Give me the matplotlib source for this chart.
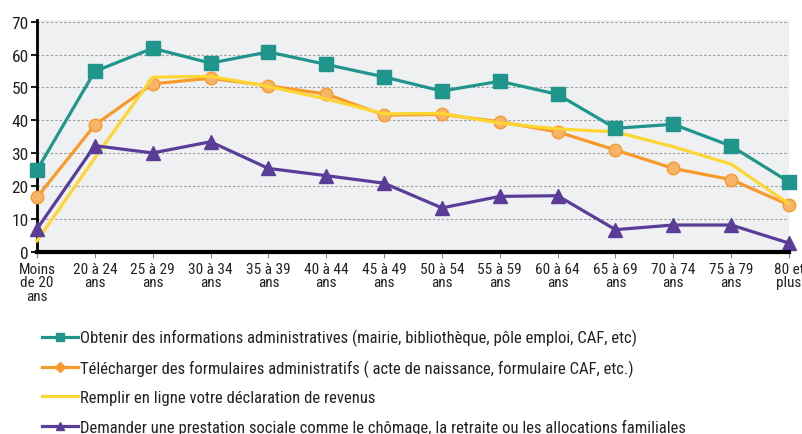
import matplotlib
matplotlib.use("Agg")
import matplotlib.pyplot as plt
import numpy as np

plt.rcParams['font.family'] = ['Roboto Condensed', 'DejaVu Sans']

categories = ["Moins\nde 20\nans", "20 à 24\nans", "25 à 29\nans", "30 à 34\nans", "35 à 39\nans",
              "40 à 44\nans", "45 à 49\nans", "50 à 54\nans", "55 à 59\nans", "60 à 64\nans",
              "65 à 69\nans", "70 à 74\nans", "75 à 79\nans", "80 et\nplus"]

infos = [24.9, 54.9, 61.9, 57.4, 60.8, 57.0, 53.2, 48.9, 51.9, 47.9, 37.6, 38.8, 32.2, 21.3]
formulaires = [16.6, 38.6, 51.1, 52.8, 50.5, 48.0, 41.6, 41.8, 39.6, 36.5, 31.0, 25.4, 22.0, 14.3]
declaration = [3.4, 28.6, 53.1, 53.4, 50.3, 46.5, 42.0, 42.1, 39.2, 37.4, 36.5, 32.0, 26.7, 14.6]
prestation = [7.0, 32.3, 30.1, 33.5, 25.4, 23.2, 20.9, 13.4, 16.9, 17.1, 6.8, 8.2, 8.2, 2.7]

labels = ["Obtenir des informations administratives (mairie, bibliothèque, pôle emploi, CAF, etc)",
          "Télécharger des formulaires administratifs ( acte de naissance, formulaire CAF, etc.)",
          "Remplir en ligne votre déclaration de revenus",
          "Demander une prestation sociale comme le chômage, la retraite ou les allocations familiales"]

teal = "#1f958b"
orange = "#f89a2a"
yellow = "#fdd633"
purple = "#5a3d98"

fig = plt.figure(figsize=(8.03, 4.35), dpi=100)
ax = fig.add_axes([37/803, 1 - 253/435, (789 - 37)/803, (253 - 21)/435])
ax.set_facecolor("#eef0f2")

x = np.arange(len(categories))
ax.plot(x, infos, color=teal, lw=2.3, marker='s', ms=10, clip_on=False, zorder=4, label=labels[0])
ax.plot(x, formulaires, color=orange, lw=2.3, marker='o', ms=9, mfc="#f6b46a", mec=orange,
        clip_on=False, zorder=3, label=labels[1])
ax.plot(x, declaration, color=yellow, lw=2.3, clip_on=False, zorder=3.5, label=labels[2])
ax.plot(x, prestation, color=purple, lw=2.3, marker='^', ms=10, clip_on=False, zorder=4, label=labels[3])

ax.set_xlim(0, len(categories) - 1)
ax.set_ylim(0, 70.5)
ax.set_yticks(range(0, 71, 10))
ax.set_xticks(x)
ax.set_xticklabels(categories, fontsize=11, color="#222222", linespacing=0.95)
ax.tick_params(axis='y', labelsize=12.5, length=4, width=1.5, pad=2, colors="#222222")
ax.tick_params(axis='x', length=4, width=0.8, color="#888888", pad=3)
ax.yaxis.grid(True, linestyle=(0, (2, 2)), color="#999999", lw=0.8)
ax.set_axisbelow(True)
for s in ['top', 'right']:
    ax.spines[s].set_visible(False)
ax.spines['left'].set_linewidth(2)
ax.spines['bottom'].set_linewidth(3)
ax.spines['bottom'].set_zorder(5)

h, l = ax.get_legend_handles_labels()
leg = fig.legend(h, l, loc='upper left', bbox_to_anchor=(42/803, 1 - 330/435), frameon=False,
                 fontsize=12, handlelength=2.15, handletextpad=0.12, labelspacing=0.8,
                 borderaxespad=0, borderpad=0)
for lh in leg.legend_handles:
    lh.set_markersize(6)
leg.legend_handles[1].set_marker('D')
leg.legend_handles[1].set_markersize(5)
leg.legend_handles[1].set_markerfacecolor(orange)
for t in leg.get_texts():
    t.set_color("#222222")

fig.savefig("out.png", dpi=100)
